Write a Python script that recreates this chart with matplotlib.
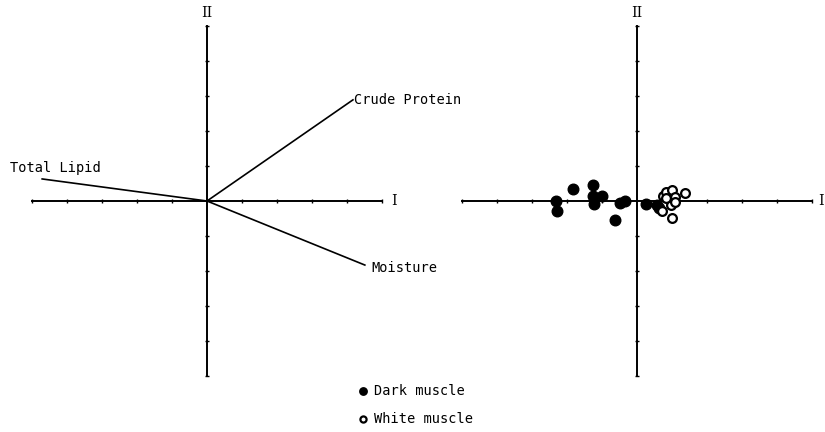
import matplotlib
matplotlib.use("Agg")
import matplotlib.pyplot as plt

# ---- data ----
variables = ["Crude Protein", "Total Lipid", "Moisture"]
loading_x = [4.17, -4.71, 4.51]
loading_y = [2.89, 0.63, -1.83]

dark_x = [-2.32, -2.29, -1.82, -1.25, -1.27, -1.23, -0.99, -0.63, -0.49, -0.33, 0.26, 0.58, 0.64]
dark_y = [0.01, -0.28, 0.34, 0.47, 0.14, -0.08, 0.14, -0.55, -0.05, 0.01, -0.09, -0.12, -0.21]

white_x = [0.73, 0.84, 1.01, 1.09, 0.96, 1.01, 0.72, 1.37, 1.09, 0.82]
white_y = [0.15, 0.25, 0.30, 0.12, -0.11, -0.50, -0.30, 0.24, -0.02, 0.08]

axis_ticks = [-5, -4, -3, -2, -1, 0, 1, 2, 3, 4, 5]
axis_labels = ["I", "II"]
legend_labels = ["Dark muscle", "White muscle"]

# ---- figure ----
W, H, DPI = 825, 432, 100
fig = plt.figure(figsize=(W / DPI, H / DPI), dpi=DPI)
plt.rcParams['font.family'] = ['DejaVu Sans Mono']
FS = 9.8
SCALE = 35.0  # pixels per unit


def make_axes(px0, px1, cx, cy, ilab_x):
    ax = fig.add_axes([px0 / W, 0, (px1 - px0) / W, 1])
    ax.set_xlim((px0 - cx) / SCALE, (px1 - cx) / SCALE)
    ax.set_ylim(-(H - cy) / SCALE, cy / SCALE)
    ax.axis("off")
    # axes lines
    ax.plot([axis_ticks[0], axis_ticks[-1]], [0, 0], color="black", lw=1.4, zorder=2)
    ax.plot([0, 0], [axis_ticks[0], axis_ticks[-1]], color="black", lw=1.4, zorder=2)
    tk = [t for t in axis_ticks if t != 0]
    ax.plot(tk, [0] * len(tk), ls="none", marker="|", ms=3.5, mew=1.0, color="black")
    ax.plot([0] * len(tk), tk, ls="none", marker="_", ms=3.5, mew=1.0, color="black")
    ax.text(ilab_x, 0, axis_labels[0], ha="center", va="center", fontsize=FS + 0.5,
            family="DejaVu Serif")
    ax.text(0, 5.36, axis_labels[1], ha="center", va="center", fontsize=FS + 0.5,
            family="DejaVu Serif")
    return ax


axL = make_axes(0, 420, 207, 201, 5.34)
axR = make_axes(420, 825, 637, 201, 5.25)

# loadings
label_pos = {
    "Crude Protein": (4.2, 2.89),
    "Total Lipid": (-5.63, 0.94),
    "Moisture": (4.69, -1.91),
}
for name, lx, ly in zip(variables, loading_x, loading_y):
    axL.plot([0, lx], [0, ly], color="black", lw=1.2, zorder=3)
    tx, ty = label_pos[name]
    axL.text(tx, ty, name, ha="left", va="center", fontsize=FS)

# scores
d = axR.scatter(dark_x, dark_y, s=58, color="black", zorder=4, label=legend_labels[0])
w = axR.scatter(white_x, white_y, s=40, facecolor="white", edgecolor="black",
                linewidth=1.6, zorder=5, label=legend_labels[1])

fig.legend(handles=[d, w], labels=legend_labels, loc="upper left",
           bbox_to_anchor=(358 / W, 1 - 384 / H), frameon=False,
           handlelength=0.8, handletextpad=0.4, labelspacing=1.0,
           markerscale=0.7, fontsize=FS, borderpad=0, borderaxespad=0)

fig.savefig("out.png", dpi=DPI)
